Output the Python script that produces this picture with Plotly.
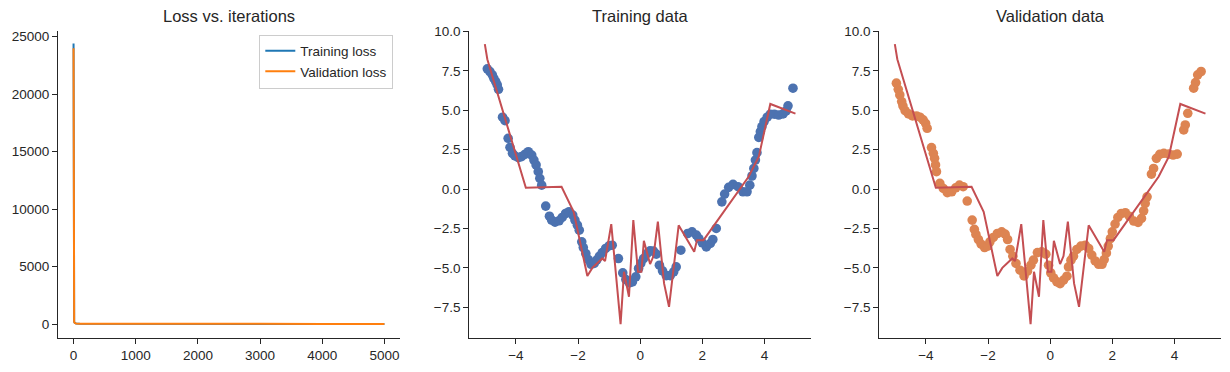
import plotly.graph_objects as go

# ---------------- data ----------------
iters = [0, 3, 6, 10, 20, 40, 100, 500, 1000, 2000, 3000, 4000, 4999]
train_loss = [24400, 1200, 420, 190, 90, 50, 30, 20, 15, 12, 10, 9, 8]
val_loss = [23970, 1150, 410, 185, 92, 52, 32, 22, 17, 14, 12, 11, 10]

train_x = [-4.92, -4.84, -4.76, -4.71, -4.65, -4.60, -4.56, -4.43, -4.35, -4.25,
           -4.19, -4.11, -4.03, -3.92, -3.82, -3.71, -3.60, -3.49, -3.42, -3.35,
           -3.28, -3.23, -3.17, -3.04, -2.92, -2.85, -2.74, -2.61, -2.51, -2.40,
           -2.29, -2.17, -2.10, -2.02, -1.96, -1.88, -1.83, -1.75, -1.67, -1.58,
           -1.48, -1.40, -1.31, -1.22, -1.11, -1.00, -0.90, -0.70, -0.56, -0.46,
           -0.35, -0.25, -0.14, -0.05, 0.02, 0.11, 0.22, 0.32, 0.43, 0.52,
           0.62, 0.72, 0.84, 0.97, 1.08, 1.16, 1.31, 1.53, 1.67, 1.81,
           1.89, 2.00, 2.13, 2.26, 2.34, 2.45, 2.63, 2.72, 2.85, 2.99,
           3.15, 3.31, 3.44, 3.53, 3.60, 3.66, 3.71, 3.76, 3.82, 3.87,
           3.92, 3.99, 4.09, 4.19, 4.32, 4.46, 4.60, 4.70, 4.76, 4.92]
train_y = [7.63, 7.46, 7.25, 7.03, 6.82, 6.61, 6.33, 4.56, 4.34, 3.22,
           2.65, 2.27, 2.10, 1.99, 2.06, 2.20, 2.37, 2.16, 1.84, 1.53,
           1.10, 0.68, 0.25, -1.08, -1.72, -1.97, -2.10, -2.01, -1.80, -1.55,
           -1.44, -1.65, -1.97, -2.29, -2.61, -3.35, -3.71, -4.09, -4.47, -4.77,
           -4.72, -4.51, -4.26, -4.03, -3.77, -3.60, -3.56, -4.41, -5.32, -5.74,
           -5.95, -5.89, -5.57, -5.04, -4.72, -4.41, -4.09, -3.92, -3.94, -4.13,
           -4.83, -5.19, -5.49, -5.49, -5.25, -4.94, -3.88, -2.82, -2.71, -2.92,
           -3.14, -3.41, -3.67, -3.45, -3.20, -2.50, -0.81, -0.32, 0.11, 0.30,
           0.15, -0.17, -0.17, 0.25, 0.83, 1.31, 1.84, 2.31, 3.28, 3.64,
           3.96, 4.28, 4.56, 4.75, 4.75, 4.70, 4.77, 4.96, 5.28, 6.40]

val_x = [-4.95, -4.89, -4.84, -4.78, -4.74, -4.67, -4.56, -4.43, -4.30, -4.19,
         -4.09, -4.01, -3.96, -3.82, -3.76, -3.72, -3.69, -3.66, -3.55, -3.44,
         -3.31, -3.17, -3.04, -2.92, -2.80, -2.67, -2.51, -2.44, -2.39, -2.31,
         -2.22, -2.11, -2.01, -1.94, -1.83, -1.70, -1.56, -1.45, -1.37, -1.29,
         -1.20, -1.10, -0.97, -0.84, -0.73, -0.62, -0.54, -0.41, -0.27, -0.14,
         -0.05, 0.02, 0.11, 0.22, 0.32, 0.43, 0.54, 0.59, 0.67, 0.75,
         0.86, 0.99, 1.13, 1.24, 1.34, 1.45, 1.56, 1.67, 1.74, 1.81,
         1.87, 1.94, 2.00, 2.09, 2.18, 2.29, 2.42, 2.55, 2.69, 2.83,
         2.94, 3.01, 3.06, 3.12, 3.26, 3.33, 3.42, 3.53, 3.66, 3.82,
         3.96, 4.09, 4.30, 4.35, 4.43, 4.62, 4.68, 4.75, 4.86]
val_y = [6.72, 6.33, 5.97, 5.55, 5.28, 4.98, 4.77, 4.64, 4.64, 4.56,
         4.39, 4.17, 3.86, 2.63, 2.27, 1.95, 1.53, 1.10, 0.36, 0.04,
         -0.23, -0.17, 0.08, 0.25, 0.15, -0.76, -1.97, -2.56, -2.88, -3.20,
         -3.50, -3.71, -3.62, -3.35, -3.07, -2.82, -2.71, -2.86, -3.20, -3.83,
         -4.26, -4.72, -5.15, -5.51, -5.21, -4.83, -4.51, -4.03, -3.98, -4.13,
         -4.83, -5.32, -5.64, -5.89, -6.00, -5.78, -5.53, -4.94, -4.51, -4.26,
         -3.83, -3.62, -3.56, -3.77, -4.19, -4.56, -4.77, -4.77, -4.47, -4.05,
         -3.62, -3.14, -2.71, -2.22, -1.80, -1.55, -1.50, -1.72, -2.03, -2.12,
         -1.86, -1.38, -0.91, -0.49, 0.95, 1.31, 1.95, 2.20, 2.27, 2.22,
         2.16, 2.22, 3.75, 4.07, 4.81, 6.40, 6.76, 7.25, 7.46]

pred_x = [-5.0, -4.92, -3.68, -2.53, -2.14, -1.70, -1.54, -1.22, -1.13, -0.93,
          -0.63, -0.52, -0.36, -0.22, -0.07, 0.04, 0.12, 0.32, 0.43, 0.57,
          0.77, 0.93, 1.24, 1.74, 1.83, 2.04, 3.49, 3.82, 4.19, 5.0]
pred_y = [9.2, 8.24, 0.08, 0.15, -1.44, -5.52, -5.0, -4.40, -4.57, -2.22,
          -8.57, -5.25, -6.83, -1.97, -5.25, -5.25, -3.28, -4.76, -4.25, -2.07,
          -5.99, -7.47, -2.30, -3.98, -3.24, -3.24, 0.78, 2.06, 5.4, 4.79]

titles = ["Loss vs. iterations", "Training data", "Validation data"]
loss_xticks = [0, 1000, 2000, 3000, 4000, 5000]
loss_yticks = [0, 5000, 10000, 15000, 20000, 25000]
data_xticks = [-4, -2, 0, 2, 4]
data_yticks = [-7.5, -5.0, -2.5, 0.0, 2.5, 5.0, 7.5, 10.0]

# ---------------- figure ----------------
# The page body has an 8px default margin; lay out in window pixels.
OFF = 8
W, H = 1230 - 2 * OFF, 372 - 2 * OFF
FONT = "Liberation Sans, Arial, sans-serif"
TXT = "#262626"


def px(xp):
    return (xp - OFF) / W


def py(yp):
    return 1 - (yp - OFF) / H


fig = go.Figure()

fig.add_trace(go.Scatter(x=iters, y=train_loss, mode="lines", name="Training loss",
                         line=dict(color="#1f77b4", width=2), xaxis="x", yaxis="y"))
fig.add_trace(go.Scatter(x=iters, y=val_loss, mode="lines", name="Validation loss",
                         line=dict(color="#ff7f0e", width=2), xaxis="x", yaxis="y"))

fig.add_trace(go.Scatter(x=train_x, y=train_y, mode="markers", showlegend=False,
                         marker=dict(color="#4c72b0", size=9.6, line=dict(width=0)),
                         xaxis="x2", yaxis="y2"))
fig.add_trace(go.Scatter(x=pred_x, y=pred_y, mode="lines", showlegend=False,
                         line=dict(color="#c44e52", width=2), xaxis="x2", yaxis="y2"))

fig.add_trace(go.Scatter(x=val_x, y=val_y, mode="markers", showlegend=False,
                         marker=dict(color="#dd8452", size=9.6, line=dict(width=0)),
                         xaxis="x3", yaxis="y3"))
fig.add_trace(go.Scatter(x=pred_x, y=pred_y, mode="lines", showlegend=False,
                         line=dict(color="#c44e52", width=2), xaxis="x3", yaxis="y3"))

xdoms = [(px(58), px(400)), (px(469.3), px(811)), (px(879.3), px(1221))]
ydom = (py(338), py(31))

axis_common = dict(showline=True, linecolor=TXT, linewidth=1.2, ticks="outside",
                   ticklen=5, tickwidth=1.1, tickcolor=TXT, showgrid=False,
                   zeroline=False, tickfont=dict(family=FONT, size=13.5, color=TXT),
                   mirror=False, automargin=False)

layout = dict(
    width=W, height=H, autosize=False,
    margin=dict(l=0, r=0, t=0, b=0, pad=0, autoexpand=False),
    paper_bgcolor="white", plot_bgcolor="white",
    font=dict(family=FONT, color=TXT),
    legend=dict(x=px(393.3), xanchor="right", y=py(34.5), yanchor="top",
                bgcolor="rgba(255,255,255,0.8)", bordercolor="#cccccc", borderwidth=1,
                font=dict(family=FONT, size=13.5, color=TXT), itemwidth=30,
                tracegroupgap=0),
    xaxis=dict(domain=xdoms[0], anchor="y", range=[-250, 5250],
               tickvals=loss_xticks, ticktext=[str(v) for v in loss_xticks], **axis_common),
    yaxis=dict(domain=ydom, anchor="x", range=[-1217, 25478],
               tickvals=loss_yticks, ticktext=[str(v) for v in loss_yticks], **axis_common),
    xaxis2=dict(domain=xdoms[1], anchor="y2", range=[-5.5, 5.5],
                tickvals=data_xticks, **axis_common),
    yaxis2=dict(domain=ydom, anchor="x2", range=[-9.45, 10.03],
                tickvals=data_yticks, tickformat=".1f", **axis_common),
    xaxis3=dict(domain=xdoms[2], anchor="y3", range=[-5.5, 5.5],
                tickvals=data_xticks, **axis_common),
    yaxis3=dict(domain=ydom, anchor="x3", range=[-9.45, 10.03],
                tickvals=data_yticks, tickformat=".1f", **axis_common),
)
fig.update_layout(**layout)

for (d0, d1), t in zip(xdoms, titles):
    fig.add_annotation(text=t, x=(d0 + d1) / 2, y=py(16.5), xref="paper", yref="paper",
                       xanchor="center", yanchor="middle", showarrow=False,
                       font=dict(family=FONT, size=16.5, color=TXT))

fig.write_html("out.html")
